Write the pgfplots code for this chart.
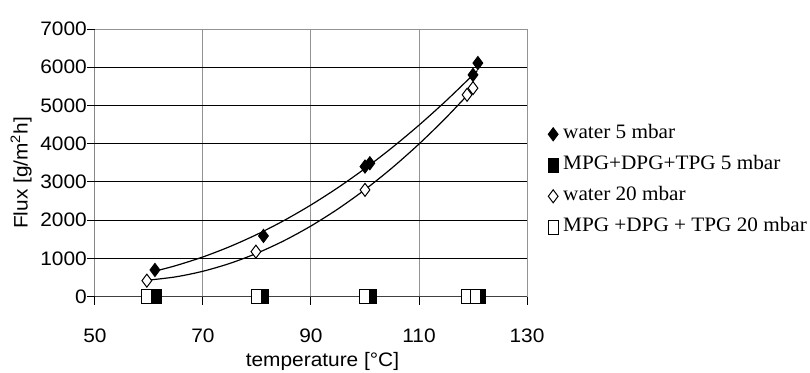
\documentclass[border=0pt]{standalone}
\usepackage{pgfplots}
\pgfplotsset{compat=1.18}
\usepackage{fontspec}
\setmainfont{Liberation Sans}[FakeStretch=1.07]
\newfontfamily\legfont{Liberation Serif}[FakeStretch=1.035]
\begin{document}
\begin{tikzpicture}
\useasboundingbox (-95pt,-75.3pt) rectangle (715pt,296.7pt);
\begin{axis}[
  at={(0pt,0pt)}, anchor=south west,
  scale only axis, width=432pt, height=267.7pt,
  xmin=50, xmax=130, ymin=0, ymax=7000,
  xtick={50,70,90,110,130}, ytick={0,1000,2000,3000,4000,5000,6000,7000},
  scaled ticks=false,
  /pgf/number format/assume math mode=true,
  /pgf/number format/1000 sep={},
  font=\fontsize{19.5}{22}\selectfont,
  tick label style={font=\fontsize{19.5}{22}\selectfont},
  xtick pos=bottom, ytick pos=left,
  tick align=outside, major tick length=8pt,
  tick style={black, line width=1pt},
  axis line style={draw=none},
  grid=major,
  major x grid style={gray!85, line width=1pt},
  major y grid style={black, line width=1pt},
  yticklabel style={inner sep=0pt, anchor=east, xshift=0pt},
  xticklabel style={inner sep=0pt, anchor=north, yshift=-24pt},
  ylabel={Flux [g/m\textsuperscript{2}h]},
  xlabel={temperature [°C]},
  every axis y label/.style={at={(axis description cs:-0.171,0.462)}, rotate=90, anchor=center},
  every axis x label/.style={at={(axis description cs:0.5266,-0.242)}, anchor=center},
  legend style={at={(axis description cs:1.0486,0.643)}, anchor=north west,
    draw=none, fill=none, inner sep=0pt, row sep=12pt, column sep=5pt,
    font=\legfont\fontsize{20.5}{24}\selectfont,
    nodes={inner sep=0pt, text height=14pt, text depth=5pt, anchor=west}},
  legend cell align=left,
  legend image code/.code={\draw[#1] plot coordinates {(0pt,0pt)};},
]
% axis frame
\draw[gray!85, line width=1pt] (rel axis cs:0,1) -- (rel axis cs:1,1) -- (rel axis cs:1,0);
\draw[black!75, line width=1pt] (rel axis cs:0,1) -- (rel axis cs:0,0) -- (rel axis cs:1,0);

\addplot[only marks, mark=diamond*, mark size=6.5pt, draw=black, fill=black, line width=1pt]
  coordinates {(61.1,699) (81.2,1589) (100,3403) (100.9,3490) (120,5800) (120.9,6110)};
\addlegendentry{water 5 mbar}
\addplot[only marks, mark=square*, mark size=5pt, mark options={yscale=1.35}, draw=black, fill=black, line width=1pt]
  coordinates {(61.3,0) (81.2,0) (101.2,0) (121.4,0)};
\addlegendentry{MPG+DPG+TPG 5 mbar}
\addplot[only marks, mark=diamond*, mark size=6.5pt, draw=black, fill=white, line width=1pt]
  coordinates {(59.6,420) (79.8,1178) (100,2793) (118.9,5280) (120,5455)};
\addlegendentry{water 20 mbar}
\addplot[only marks, mark=square*, mark size=5pt, mark options={yscale=1.35}, draw=black, fill=white, line width=1pt]
  coordinates {(59.6,0) (79.9,0) (99.9,0) (118.8,0) (120.5,0)};
\addlegendentry{MPG +DPG + TPG 20 mbar}

% trend lines
\addplot[forget plot, black, line width=1.2pt, smooth]
  coordinates {(61.5,683) (65,814) (70,1040) (75,1312) (80,1629) (85,1992) (90,2400) (95,2853) (100,3352) (105,3896) (110,4486) (115,5121) (120,5801) (120.8,5914)};
\addplot[forget plot, black, line width=1.2pt, smooth]
  coordinates {(60,435) (65,520) (70,666) (75,872) (80,1138) (85,1464) (90,1850) (95,2296) (100,2801) (105,3367) (110,3993) (115,4680) (120,5426)};
\end{axis}
\end{tikzpicture}
\end{document}
